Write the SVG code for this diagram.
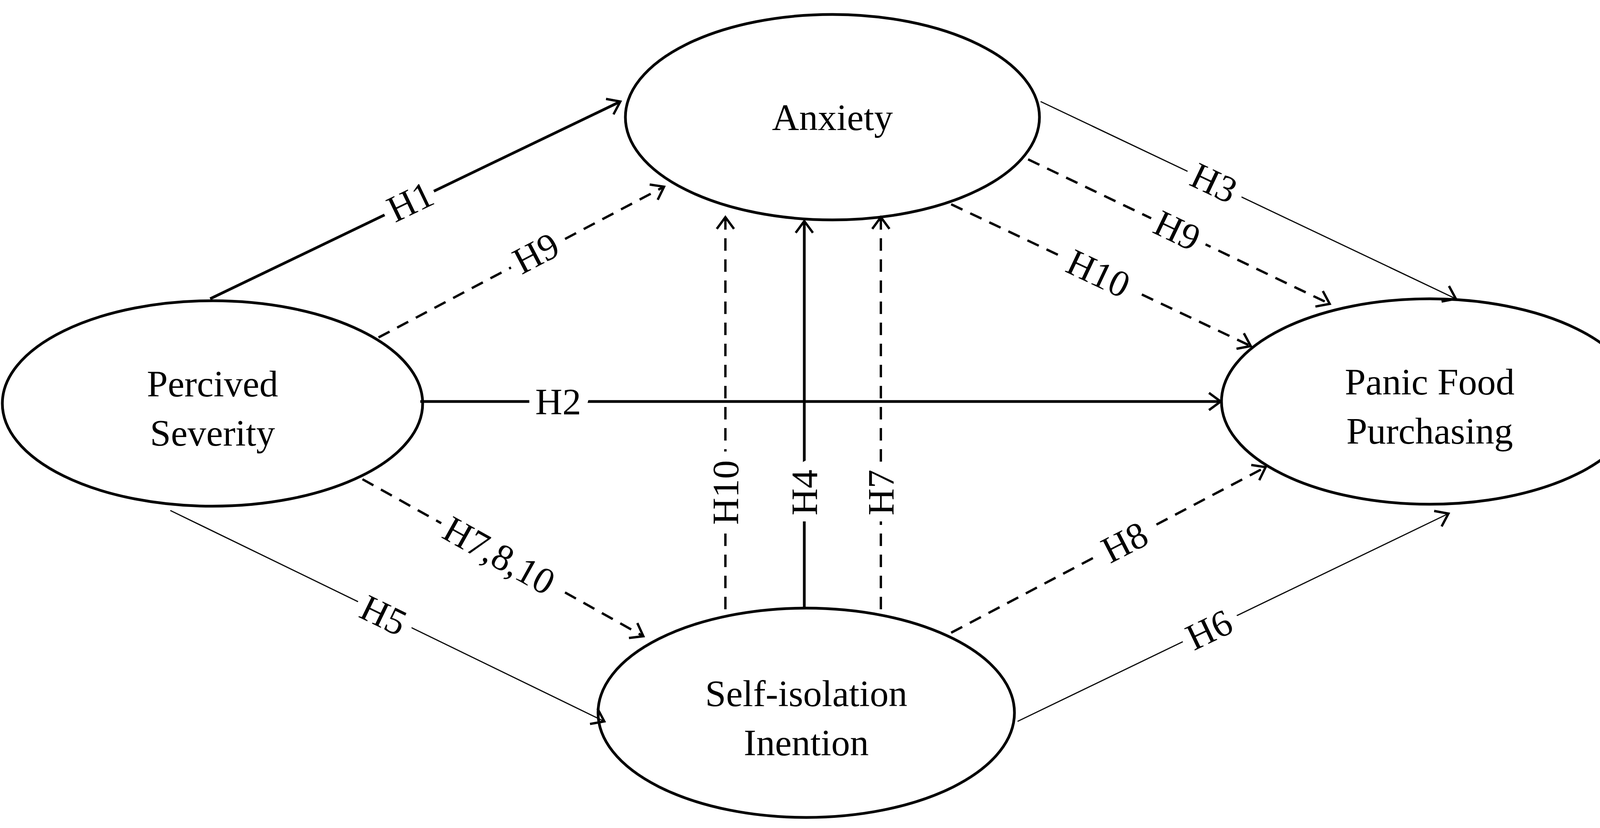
<svg xmlns="http://www.w3.org/2000/svg" width="4220" height="2120" viewBox="0 0 4220 2120">
<style>
.node{fill:#fff;stroke:#000;stroke-width:7}
.t{font-family:"Liberation Serif","DejaVu Serif",serif;font-size:96px;text-anchor:middle;dominant-baseline:central;fill:#000}
.lab{font-family:"Liberation Serif","DejaVu Serif",serif;font-size:96px;text-anchor:middle;dominant-baseline:central;fill:#000;stroke:#fff;stroke-width:52px;paint-order:stroke;stroke-linejoin:round}
.s{stroke:#000;stroke-width:7;fill:none;marker-end:url(#a)}
.th{stroke:#000;stroke-width:3;fill:none;marker-end:url(#a)}
.d{stroke:#000;stroke-width:6;fill:none;stroke-dasharray:32 22;marker-end:url(#a)}
</style>
<defs>
<marker id="a" markerUnits="userSpaceOnUse" markerWidth="80" markerHeight="80" refX="60" refY="40" orient="auto" viewBox="0 0 80 80">
<path d="M30,18 L60,40 L30,62" fill="none" stroke="#000" stroke-width="6"/>
</marker>
</defs>
<g id="anxiety"><ellipse class="node" cx="2131" cy="300" rx="530" ry="263"/><text class="t" x="2131" y="300">Anxiety</text></g>
<g id="severity"><ellipse class="node" cx="544" cy="1033" rx="538" ry="263"/><text class="t" x="544" y="982">Percived</text><text class="t" x="544" y="1108">Severity</text></g>
<g id="panic"><ellipse class="node" cx="3660" cy="1028" rx="533" ry="263"/><text class="t" x="3660" y="977">Panic Food</text><text class="t" x="3660" y="1103">Purchasing</text></g>
<g id="isolation"><ellipse class="node" cx="2064" cy="1825" rx="533" ry="268"/><text class="t" x="2064" y="1775">Self-isolation</text><text class="t" x="2064" y="1901">Inention</text></g>
<g id="connectors">
<line class="s" x1="538" y1="765" x2="1588" y2="260"/>
<line class="d" x1="969" y1="864" x2="1700" y2="478"/>
<line class="s" x1="1076" y1="1028" x2="3125" y2="1028"/>
<line class="th" x1="436" y1="1307" x2="1547" y2="1847"/>
<line class="d" x1="928" y1="1227" x2="1647" y2="1629"/>
<line class="d" x1="1857" y1="1560" x2="1857" y2="556"/>
<line class="s" x1="2059" y1="1560" x2="2059" y2="566"/>
<line class="d" x1="2255" y1="1560" x2="2255" y2="556"/>
<line class="th" x1="2664" y1="260" x2="3727" y2="765"/>
<line class="d" x1="2632" y1="408" x2="3404" y2="778"/>
<line class="d" x1="2435" y1="523" x2="3202" y2="886"/>
<line class="d" x1="2435" y1="1620" x2="3240" y2="1196"/>
<line class="th" x1="2605" y1="1847" x2="3708" y2="1315"/>
<text class="lab" transform="translate(1050,516) rotate(-25.7)">H1</text>
<text class="lab" transform="translate(1372,648) rotate(-27.7)">H9</text>
<text class="lab" x="1429" y="1028">H2</text>
<text class="lab" transform="translate(982,1575) rotate(25.9)">H5</text>
<text class="lab" transform="translate(1278,1422) rotate(29.2)">H7,8,10</text>
<text class="lab" transform="translate(1857,1261) rotate(-90)">H10</text>
<text class="lab" transform="translate(2059,1261) rotate(-90)">H4</text>
<text class="lab" transform="translate(2255,1261) rotate(-90)">H7</text>
<text class="lab" transform="translate(3108,468) rotate(25.4)">H3</text>
<text class="lab" transform="translate(3014,590) rotate(25.6)">H9</text>
<text class="lab" transform="translate(2812,700) rotate(25.3)">H10</text>
<text class="lab" transform="translate(2879,1388) rotate(-27.2)">H8</text>
<text class="lab" transform="translate(3095,1612) rotate(-25.7)">H6</text>
</g>
</svg>
